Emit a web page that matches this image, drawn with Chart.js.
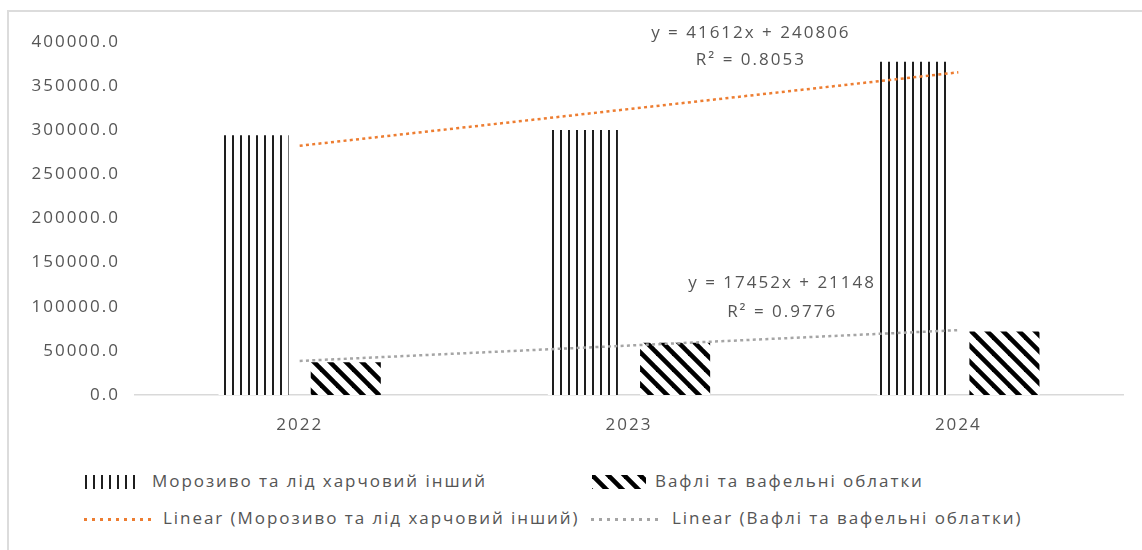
<!DOCTYPE html>
<html>
<head>
<meta charset="utf-8">
<script src="https://cdn.jsdelivr.net/npm/chart.js@4.4.1/dist/chart.umd.min.js"></script>
<style>
    html, body { margin: 0; padding: 0; background: #fff; }
    body { width: 1142px; height: 550px; position: relative; overflow: hidden; font-family: 'Open Sans', sans-serif; }
    #frame { position: absolute; left: 7px; top: 10px; width: 1200px; height: 600px; border-left: 2px solid #dcdcdc; border-top: 2px solid #dcdcdc; box-sizing: border-box; }
    #chart { position: absolute; left: 0; top: 0; }
    .legend-text { position: absolute; font-size: 17px; line-height: 20px; color: #555; letter-spacing: 1.95px; white-space: nowrap; }
    .legend-swatch { position: absolute; }
</style>
</head>
<body>
<div id="frame"></div>
<canvas id="chart" width="1142" height="450"></canvas>
<div id="legend"></div>
<script>
// Дані графіка
const years = ['2022', '2023', '2024'];
const iceCream = [294200, 300400, 377500];
const wafers = [37100, 59100, 72000];
const iceCreamTrend = [282418, 324030, 365642];
const wafersTrend = [38600, 56052, 73504];
const seriesNames = ['Морозиво та лід харчовий інший', 'Вафлі та вафельні облатки'];
const trendNames = seriesNames.map(n => 'Linear (' + n + ')');
const yTicks = [0, 50000, 100000, 150000, 200000, 250000, 300000, 350000, 400000];
const equations = [
    { lines: ['y = 41612x + 240806', 'R² = 0.8053'], x: 1.37, y: [410200, 379600] },
    { lines: ['y = 17452x + 21148', 'R² = 0.9776'], x: 1.465, y: [126900, 94050] }
];

const textColor = '#555';
const orange = '#ED7D31';
const grey = '#A5A5A5';
const font = { family: "'Open Sans', sans-serif", size: 17 };

// Штрихування для стовпців
function verticalPattern() {
    const tile = document.createElement('canvas');
    tile.width = 8; tile.height = 8;
    const c = tile.getContext('2d');
    c.fillStyle = '#fff';
    c.fillRect(0, 0, 8, 8);
    c.fillStyle = '#1e1e1e';
    c.fillRect(0, 0, 2, 8);
    return c.createPattern(tile, 'repeat');
}

function diagonalPattern() {
    const tile = document.createElement('canvas');
    tile.width = 16; tile.height = 16;
    const c = tile.getContext('2d');
    c.fillStyle = '#fff';
    c.fillRect(0, 0, 16, 16);
    c.strokeStyle = '#000';
    c.lineWidth = 4.6;
    for (let k = -1; k <= 1; k++) {
        c.beginPath();
        c.moveTo(k * 16 - 4, -4);
        c.lineTo(k * 16 + 20, 20);
        c.stroke();
    }
    return c.createPattern(tile, 'repeat');
}

const vPattern = verticalPattern();
const dPattern = diagonalPattern();

const spacingPlugin = {
    id: 'spacing',
    beforeDraw(chart) {
        chart.ctx.letterSpacing = '2px';
    }
};

const equationPlugin = {
    id: 'equations',
    afterDatasetsDraw(chart) {
        const { ctx, scales: { x, y } } = chart;
        ctx.save();
        ctx.font = font.size + 'px ' + font.family;
        ctx.fillStyle = textColor;
        ctx.textAlign = 'center';
        ctx.textBaseline = 'middle';
        equations.forEach(eq => {
            const px = x.getPixelForValue(eq.x);
            eq.lines.forEach((t, i) => ctx.fillText(t, px, y.getPixelForValue(eq.y[i])));
        });
        ctx.restore();
    }
};

new Chart(document.getElementById('chart'), {
    type: 'bar',
    data: {
        labels: years,
        datasets: [
            {
                label: seriesNames[0],
                data: iceCream,
                backgroundColor: vPattern,
                borderWidth: 0,
                categoryPercentage: 0.56,
                barPercentage: 0.76,
                order: 1
            },
            {
                label: seriesNames[1],
                data: wafers,
                backgroundColor: dPattern,
                borderWidth: 0,
                categoryPercentage: 0.56,
                barPercentage: 0.76,
                order: 1
            },
            {
                type: 'line',
                label: trendNames[0],
                data: iceCreamTrend,
                borderColor: orange,
                borderWidth: 2.5,
                borderDash: [3, 3.3],
                pointRadius: 0,
                fill: false,
                order: 0
            },
            {
                type: 'line',
                label: trendNames[1],
                data: wafersTrend,
                borderColor: grey,
                borderWidth: 2.5,
                borderDash: [3, 3.3],
                pointRadius: 0,
                fill: false,
                order: 0
            }
        ]
    },
    options: {
        responsive: false,
        animation: false,
        layout: { padding: { top: 42, right: 19, bottom: 0, left: 0 } },
        plugins: {
            legend: { display: false },
            tooltip: { enabled: false }
        },
        scales: {
            x: {
                grid: { display: true, drawOnChartArea: false, drawTicks: false },
                border: { display: true, color: '#d9d9d9', width: 1.5 },
                ticks: { color: textColor, font: font, padding: 20 },
                afterFit: s => { s.height = 55; }
            },
            y: {
                min: 0,
                max: 400000,
                grid: { display: false, drawTicks: false },
                border: { display: false },
                afterBuildTicks: s => { s.ticks = yTicks.map(v => ({ value: v })); },
                ticks: {
                    color: textColor,
                    font: font,
                    padding: 15,
                    callback: v => v.toFixed(1)
                },
                afterFit: s => { s.width = 135; }
            }
        }
    },
    plugins: [spacingPlugin, equationPlugin]
});

// Легенда
const legendItems = [
    { text: seriesNames[0], kind: 'vertical', sw: 85, w: 52, tx: 152, y: 482 },
    { text: seriesNames[1], kind: 'diagonal', sw: 592, w: 54, tx: 655, y: 482 },
    { text: trendNames[0], kind: 'dots', color: orange, sw: 83, w: 70, tx: 163, y: 519 },
    { text: trendNames[1], kind: 'dots', color: grey, sw: 590, w: 70, tx: 672, y: 519 }
];

const legend = document.getElementById('legend');
legendItems.forEach(item => {
    const cv = document.createElement('canvas');
    cv.className = 'legend-swatch';
    cv.width = item.w; cv.height = 14;
    cv.style.left = item.sw + 'px';
    cv.style.top = (item.y - 7) + 'px';
    const c = cv.getContext('2d');
    if (item.kind === 'vertical') {
        c.fillStyle = '#1e1e1e';
        for (let x = 0; x + 2 <= item.w; x += 8) c.fillRect(x, 0, 2, 14);
    } else if (item.kind === 'diagonal') {
        c.fillStyle = dPattern;
        c.fillRect(0, 0, item.w, 14);
    } else {
        c.fillStyle = item.color;
        for (let x = 1; x < item.w; x += 8) c.fillRect(x, 6, 3, 3);
    }
    legend.appendChild(cv);

    const t = document.createElement('div');
    t.className = 'legend-text';
    t.textContent = item.text;
    t.style.left = item.tx + 'px';
    t.style.top = (item.y - 11) + 'px';
    legend.appendChild(t);
});
</script>
</body>
</html>
